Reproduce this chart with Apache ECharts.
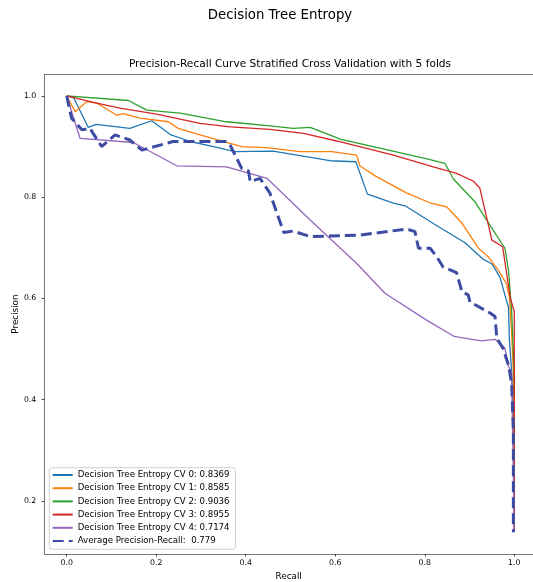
<!DOCTYPE html>
<html>
<head>
<meta charset="utf-8">
<title>Decision Tree Entropy</title>
<script src="https://cdn.jsdelivr.net/npm/echarts@6/dist/echarts.min.js"></script>
<style>
  html, body { margin: 0; padding: 0; background: #fff; }
  #chart { width: 533px; height: 582px; }
</style>
</head>
<body>
<div id="chart"></div>
<script>
// Precision-recall curves for each stratified fold (recall, precision pairs)
const cv0Recall    = [0, 0.016, 0.048, 0.066, 0.141, 0.190, 0.233, 0.276, 0.328, 0.376, 0.461, 0.588, 0.646, 0.672, 0.730, 0.756, 0.819, 0.890, 0.931, 0.950, 0.968, 0.982, 0.987, 0.989, 0.994, 1.0, 1.0];
const cv0Precision = [1.0, 0.996, 0.938, 0.944, 0.936, 0.951, 0.923, 0.910, 0.900, 0.890, 0.891, 0.872, 0.870, 0.806, 0.788, 0.783, 0.748, 0.710, 0.677, 0.668, 0.642, 0.597, 0.583, 0.518, 0.458, 0.300, 0.140];

const cv1Recall    = [0, 0.019, 0.045, 0.067, 0.112, 0.126, 0.164, 0.227, 0.249, 0.298, 0.391, 0.447, 0.521, 0.592, 0.648, 0.655, 0.689, 0.760, 0.814, 0.849, 0.882, 0.920, 0.942, 0.964, 0.982, 0.989, 0.994, 0.998, 1.0];
const cv1Precision = [1.0, 0.969, 0.989, 0.986, 0.962, 0.965, 0.956, 0.949, 0.936, 0.923, 0.900, 0.898, 0.890, 0.890, 0.883, 0.862, 0.842, 0.808, 0.788, 0.781, 0.750, 0.699, 0.682, 0.656, 0.630, 0.603, 0.532, 0.453, 0.140];

const cv2Recall    = [0, 0.138, 0.179, 0.253, 0.357, 0.454, 0.506, 0.544, 0.613, 0.734, 0.807, 0.845, 0.864, 0.912, 0.943, 0.979, 0.987, 0.994, 1.0, 1.0];
const cv2Precision = [1.0, 0.991, 0.972, 0.966, 0.949, 0.941, 0.936, 0.938, 0.914, 0.890, 0.875, 0.867, 0.836, 0.791, 0.748, 0.699, 0.656, 0.577, 0.447, 0.140];

const cv3Recall    = [0, 0.067, 0.119, 0.201, 0.298, 0.365, 0.454, 0.529, 0.603, 0.730, 0.819, 0.871, 0.908, 0.923, 0.950, 0.974, 0.991, 1.0, 1.0, 1.0];
const cv3Precision = [1.0, 0.986, 0.976, 0.964, 0.946, 0.939, 0.934, 0.926, 0.911, 0.883, 0.860, 0.847, 0.832, 0.818, 0.715, 0.702, 0.601, 0.574, 0.449, 0.140];

const cv4Recall    = [0, 0.030, 0.149, 0.246, 0.357, 0.448, 0.544, 0.648, 0.711, 0.804, 0.865, 0.927, 0.957, 0.979, 0.987, 0.994, 1.0];
const cv4Precision = [1.0, 0.916, 0.908, 0.862, 0.860, 0.837, 0.755, 0.669, 0.610, 0.557, 0.525, 0.516, 0.519, 0.502, 0.466, 0.453, 0.140];

// Mean curve across folds
const avgRecall    = [0, 0.011, 0.034, 0.052, 0.078, 0.108, 0.141, 0.168, 0.238, 0.357, 0.365, 0.391, 0.406, 0.410, 0.432, 0.454, 0.485, 0.506, 0.544, 0.655, 0.760, 0.778, 0.786, 0.812, 0.827, 0.841, 0.871, 0.883, 0.897, 0.901, 0.946, 0.957, 0.961, 0.975, 0.987, 0.994, 0.998, 0.998];
const avgPrecision = [1.0, 0.956, 0.933, 0.936, 0.900, 0.923, 0.913, 0.893, 0.910, 0.910, 0.903, 0.857, 0.852, 0.831, 0.837, 0.808, 0.730, 0.733, 0.722, 0.725, 0.737, 0.732, 0.699, 0.699, 0.682, 0.662, 0.651, 0.613, 0.607, 0.593, 0.571, 0.564, 0.521, 0.501, 0.468, 0.432, 0.340, 0.138];

const apScores = [0.8369, 0.8585, 0.9036, 0.8955, 0.7174];
const avgScore = 0.779;
const foldColors = ['#1f77b4', '#ff7f0e', '#2ca02c', '#d62728', '#9467bd'];
const avgColor = '#3d4ba2';

const xTicks = [0.0, 0.2, 0.4, 0.6, 0.8, 1.0];
const yTicks = [0.2, 0.4, 0.6, 0.8, 1.0];

const FONT = '"DejaVu Sans", "Liberation Sans", sans-serif';
const SPINE = { show: true, onZero: false, lineStyle: { color: '#555', width: 0.8 } };

const zip = (xs, ys) => xs.map((x, i) => [x, ys[i]]);

const folds = [
  [cv0Recall, cv0Precision],
  [cv1Recall, cv1Precision],
  [cv2Recall, cv2Precision],
  [cv3Recall, cv3Precision],
  [cv4Recall, cv4Precision]
];

const series = folds.map(([r, p], i) => ({
  name: 'Decision Tree Entropy CV ' + i + ': ' + apScores[i].toFixed(4),
  type: 'line',
  data: zip(r, p),
  symbol: 'none',
  color: foldColors[i],
  lineStyle: { width: 1.3, color: foldColors[i] },
  z: 2
}));

series.push({
  name: 'Average Precision-Recall:  ' + avgScore.toFixed(3),
  type: 'line',
  data: zip(avgRecall, avgPrecision),
  symbol: 'none',
  color: avgColor,
  lineStyle: { width: 3, color: avgColor, type: [11, 5] },
  z: 3
});

const chart = echarts.init(document.getElementById('chart'), null, { renderer: 'canvas' });

chart.setOption({
  animation: false,
  backgroundColor: '#fff',
  graphic: [
    {
      type: 'text',
      x: 280, y: 16,
      style: {
        text: 'Decision Tree Entropy',
        font: 'normal 13.3px ' + FONT,
        fill: '#000',
        textAlign: 'center',
        textVerticalAlign: 'middle'
      }
    },
    {
      type: 'text',
      x: 290, y: 64,
      style: {
        text: 'Precision-Recall Curve Stratified Cross Validation with 5 folds',
        font: 'normal 10.6px ' + FONT,
        fill: '#000',
        textAlign: 'center',
        textVerticalAlign: 'middle'
      }
    }
  ],
  // The plot box runs past the right edge of the canvas, so only the
  // left, top and bottom spines are drawn.
  grid: {
    left: 44.3, top: 74.2, right: 0, bottom: 28.1,
    outerBoundsMode: 'none',
    containLabel: false,
    show: false
  },
  xAxis: [
    {
      type: 'value',
      position: 'bottom',
      min: -0.05,
      max: 1.0418,
      name: 'Recall',
      nameLocation: 'middle',
      nameGap: 17,
      nameTextStyle: { fontFamily: FONT, fontSize: 8.8, color: '#000' },
      axisLine: SPINE,
      splitLine: { show: false },
      axisTick: { show: true, length: 2.6, customValues: xTicks, lineStyle: { color: '#222', width: 0.8 } },
      axisLabel: {
        customValues: xTicks,
        margin: 5,
        fontFamily: FONT, fontSize: 7.8, color: '#000',
        formatter: v => v.toFixed(1)
      }
    },
    {
      type: 'value',
      position: 'top',
      min: -0.05,
      max: 1.0418,
      axisLine: SPINE,
      axisTick: { show: false },
      axisLabel: { show: false },
      splitLine: { show: false }
    }
  ],
  yAxis: {
    type: 'value',
    min: 0.095,
    max: 1.043,
    name: 'Precision',
    nameLocation: 'middle',
    nameGap: 24,
    nameMoveOverlap: false,
    nameTextStyle: { fontFamily: FONT, fontSize: 8.8, color: '#000' },
    axisLine: SPINE,
    splitLine: { show: false },
    axisTick: { show: true, length: 2.6, customValues: yTicks, lineStyle: { color: '#222', width: 0.8 } },
    axisLabel: {
      customValues: yTicks,
      margin: 8,
      fontFamily: FONT, fontSize: 7.8, color: '#000',
      formatter: v => v.toFixed(1)
    }
  },
  legend: {
    orient: 'vertical',
    left: 49.3,
    top: 467.7,
    padding: [2.3, 6, 3.3, 2.4],
    itemWidth: 20,
    itemHeight: 10,
    itemGap: 3.2,
    backgroundColor: 'rgba(255,255,255,0.8)',
    borderColor: '#d0d0d0',
    borderWidth: 1,
    borderRadius: 3,
    itemStyle: { opacity: 0, color: 'transparent', borderColor: 'transparent', borderWidth: 0 },
    textStyle: { fontFamily: FONT, fontSize: 8.6, color: '#000', lineHeight: 10 },
    data: series.map(s => s.name)
  },
  series: series
});
</script>
</body>
</html>
